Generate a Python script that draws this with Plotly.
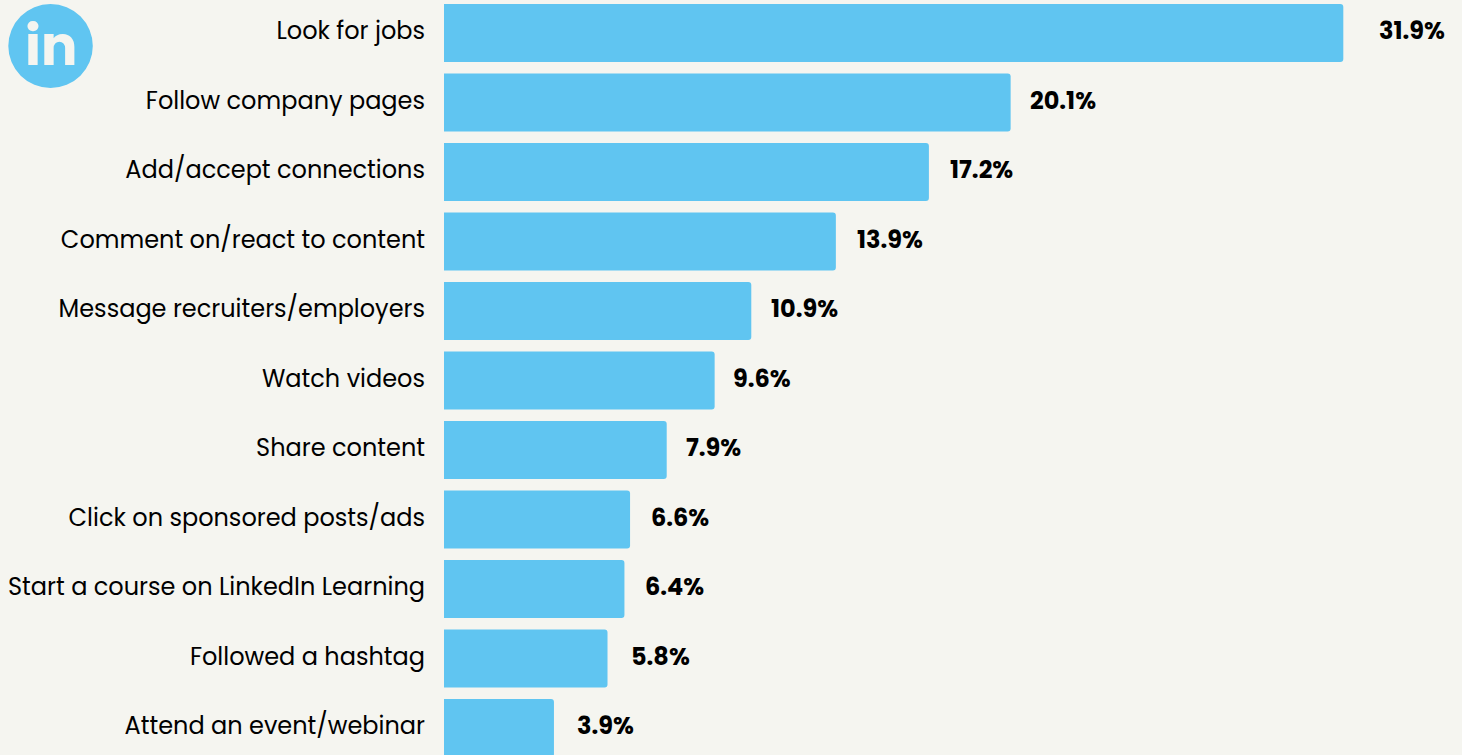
import plotly.graph_objects as go

categories = ["Look for jobs","Follow company pages","Add/accept connections","Comment on/react to content","Message recruiters/employers","Watch videos","Share content","Click on sponsored posts/ads","Start a course on LinkedIn Learning","Followed a hashtag","Attend an event/webinar"]
values = [31.9,20.1,17.2,13.9,10.9,9.6,7.9,6.6,6.4,5.8,3.9]
labels = ["31.9%","20.1%","17.2%","13.9%","10.9%","9.6%","7.9%","6.6%","6.4%","5.8%","3.9%"]
label_gaps = [34,17,19,19,18,16,17,19,19,21,21]

BG = "#F5F5F0"
BAR = "#60C5F1"
FONT = "Poppins, Lato, Roboto"
LEFT = 443.7
fig = go.Figure(go.Bar(x=values, y=categories, orientation="h",
    marker=dict(color=BAR, line_width=0, cornerradius=3), width=0.835, hoverinfo="skip"))
annotations = [dict(x=v, y=c, text=t, xref="x", yref="y", xanchor="left", yanchor="middle", xshift=g, yshift=2.5, showarrow=False,
                    font=dict(family=FONT, size=24, color="#000000", weight="bold"))
               for v, c, t, g in zip(values, categories, labels, label_gaps)]
annotations.append(dict(text="in", xref="paper", x=0, xanchor="center", xshift=50.5-LEFT, yref="paper", y=1, yanchor="top", yshift=-6,
                        showarrow=False, font=dict(family=FONT, size=54, color=BG, weight="bold")))
fig.update_layout(width=1462, height=755, margin=dict(l=LEFT, r=0, t=0, b=0), paper_bgcolor=BG, plot_bgcolor=BG, showlegend=False,
    xaxis=dict(visible=False, range=[0, 36.11]),
    yaxis=dict(autorange=False, range=[10.388, -0.475], showgrid=False, showline=False, zeroline=False, ticks="", ticklabelstandoff=18,
               ticklabelshift=2, tickfont=dict(family=FONT, size=24, color="#000000")),
    shapes=[dict(type="circle", xref="paper", yref="paper", xsizemode="pixel", ysizemode="pixel", xanchor=0, yanchor=1,
                 x0=8-LEFT, x1=92.5-LEFT, y0=-88, y1=-4, fillcolor=BAR, line_width=0, layer="below")],
    annotations=annotations)
fig.write_html("out.html", config=dict(displayModeBar=False),
               post_script="document.body.style.margin='0';document.body.style.overflow='hidden';")
